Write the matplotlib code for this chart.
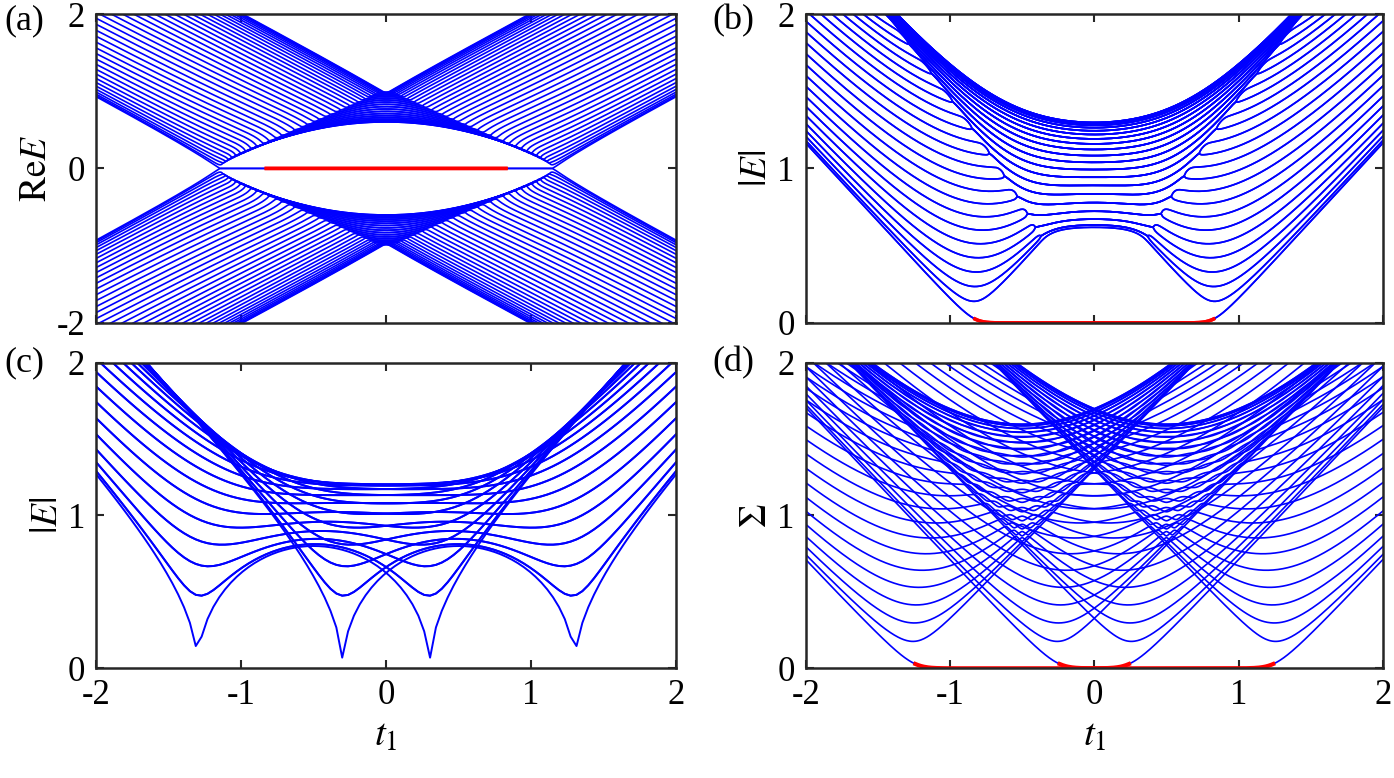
import numpy as np
import matplotlib.pyplot as plt

plt.rcParams['font.family'] = ['Liberation Serif', 'DejaVu Serif']
plt.rcParams['mathtext.fontset'] = 'stix'

# chain parameters (gamma/2, t2, t3) for each panel
pars_a = (0.3, 0.82, 0.22)
pars_b = (0.5, 1.0, -0.2)
pars_c = (0.8, 0.7, -0.2)
pars_d = (0.5, 1.2, -0.4)
n_cells = 40
edge_range = 0.83   # |t1| range where the two lowest states are drawn red
sv_zero = 0.03      # singular values below this are drawn red

t1_obc = np.linspace(-2, 2, 601)
t1_pbc = np.linspace(-2, 2, 100)
k_pbc = 2*np.pi*np.arange(n_cells)/n_cells

xticks = [-2, -1, 0, 1, 2]
yticks_a = [-2, 0, 2]
yticks_bcd = [0, 1, 2]
ylabels = [r'$\mathrm{Re}E$', r'$|E|$', r'$|E|$', r'$\Sigma$']
panel_tags = ['(a)', '(b)', '(c)', '(d)']


def hamiltonian(t1, pars):
    g, t2, t3 = pars
    n = n_cells
    h = np.zeros((2*n, 2*n), dtype=complex)
    for j in range(n):
        a, b = 2*j, 2*j + 1
        h[a, b] = t1 + g
        h[b, a] = t1 - g
        if j + 1 < n:
            an, bn = 2*j + 2, 2*j + 3
            h[b, an] = t2
            h[an, b] = t2
            h[a, bn] = t3
            h[bn, a] = t3
    return h


def bloch(t1, k, pars):
    g, t2, t3 = pars
    hp = t1 + g + t2*np.exp(-1j*k) + t3*np.exp(1j*k)
    hm = t1 - g + t2*np.exp(1j*k) + t3*np.exp(-1j*k)
    return np.array([[0, hp], [hm, 0]])


def track(vals):
    # follow each eigenvalue continuously along t1
    out = np.empty_like(vals)
    out[0] = vals[0]
    m = vals.shape[1]
    for i in range(1, len(vals)):
        pred = 2*out[i-1] - out[i-2] if i > 1 else out[i-1]
        d = np.abs(pred[:, None] - vals[i][None, :])
        used_r = np.zeros(m, bool)
        used_c = np.zeros(m, bool)
        cnt = 0
        for p in np.argsort(d, axis=None):
            r, c = divmod(p, m)
            if used_r[r] or used_c[c]:
                continue
            out[i, r] = vals[i, c]
            used_r[r] = used_c[c] = True
            cnt += 1
            if cnt == m:
                break
    return out


def obc_spectrum(pars):
    E = np.array([np.linalg.eigvals(hamiltonian(t, pars)) for t in t1_obc])
    order = np.argsort(np.abs(E), axis=1)
    edge = np.take_along_axis(E, order[:, :2], axis=1)
    return track(E), edge


E_a, edge_a = obc_spectrum(pars_a)
E_b, edge_b = obc_spectrum(pars_b)
edge_mask = np.abs(t1_obc) <= edge_range

E_pbc = np.array([[np.abs(np.linalg.eigvals(bloch(t, k, pars_c))[0]) for k in k_pbc]
                  for t in t1_pbc])

sv = np.array([np.linalg.svd(hamiltonian(t, pars_d), compute_uv=False) for t in t1_obc])
sv = np.sort(sv, axis=1)

fig = plt.figure(figsize=(13.94, 7.78), dpi=100)
rects = [[0.069, 0.585, 0.416, 0.397], [0.578, 0.585, 0.414, 0.397],
         [0.069, 0.141, 0.416, 0.393], [0.578, 0.141, 0.414, 0.393]]
axs = [fig.add_axes(r) for r in rects]

blue = (0, 0, 1)
red = (1, 0, 0)

ax = axs[0]
ax.plot(t1_obc, E_a.real, color=blue, lw=1.2)
ax.plot(t1_obc[edge_mask], np.sort(edge_a.real, axis=1)[edge_mask], color=red, lw=2.5)
ax.set_ylim(-2, 2)
ax.set_yticks(yticks_a)

ax = axs[1]
ax.plot(t1_obc, np.abs(E_b), color=blue, lw=1.2)
ax.plot(t1_obc[edge_mask], np.sort(np.abs(edge_b), axis=1)[edge_mask], color=red, lw=2.5)

ax = axs[2]
ax.plot(t1_pbc, E_pbc, color=blue, lw=1.4)

ax = axs[3]
ax.plot(t1_obc, sv, color=blue, lw=1.2)
ax.plot(t1_obc, np.where(sv < sv_zero, sv, np.nan), color=red, lw=3)

for i, ax in enumerate(axs):
    ax.set_xlim(-2, 2)
    ax.set_xticks(xticks)
    if i > 0:
        ax.set_ylim(0, 2)
        ax.set_yticks(yticks_bcd)
    ax.set_yticklabels([str(v) for v in ax.get_yticks().astype(int)])
    ax.tick_params(direction='in', top=True, right=True, length=6, width=1.5,
                   labelsize=25, colors='#262626', labelcolor='black', pad=8)
    for s in ax.spines.values():
        s.set_linewidth(1.8)
        s.set_color('#262626')
    if i < 2:
        ax.tick_params(labelbottom=False)
    else:
        ax.set_xticklabels([str(v) for v in xticks])
        ax.set_xlabel(r'$t_1$', fontsize=28, labelpad=4)
    ax.set_ylabel(ylabels[i], fontsize=27, labelpad=2)

fig.text(0.003, 0.995, panel_tags[0], fontsize=26, va='top')
fig.text(0.511, 0.995, panel_tags[1], fontsize=26, va='top')
fig.text(0.003, 0.555, panel_tags[2], fontsize=26, va='top')
fig.text(0.511, 0.555, panel_tags[3], fontsize=26, va='top')

fig.savefig('out.png', dpi=100)
